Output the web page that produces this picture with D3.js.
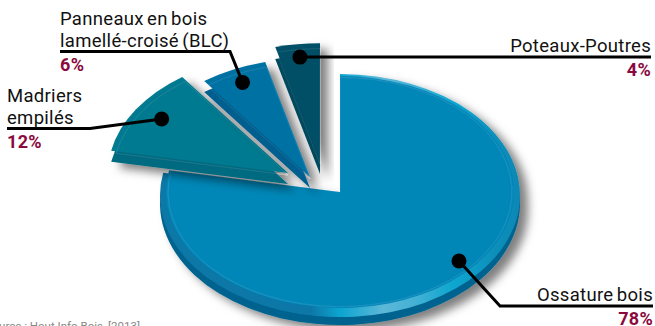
<!DOCTYPE html>
<html>
<head>
<meta charset="utf-8">
<script src="https://cdn.jsdelivr.net/npm/d3@7"></script>
<style>
    html, body { margin: 0; padding: 0; background: #fff; overflow: hidden; }
    svg { display: block; }
    text { font-family: Roboto, "Liberation Sans", sans-serif; }
    .nom { font-size: 18.5px; fill: #111; letter-spacing: 0.3px; word-spacing: -1.5px; }
    .pct { font-size: 18px; font-weight: 700; fill: #8a0a3e; letter-spacing: 0.3px; }
    .source { font-size: 11.5px; fill: #888; }
</style>
</head>
<body>
<div id="pie"></div>
<script>
// Podaci
const categories = ["Ossature bois", "Madriers empilés", "Panneaux en bois lamellé-croisé (BLC)", "Poteaux-Poutres"];
const values = [78, 12, 6, 4];
const percentLabels = ["78%", "12%", "6%", "4%"];
const sliceColors = ["#0587b8", "#047a90", "#0271a3", "#014f66"];
const sideColors = ["#05648f", "#046a80", "#025f8f", "#01485e"];
const labelLines = [["Ossature bois"], ["Madriers", "empilés"], ["Panneaux en bois", "lamellé-croisé (BLC)"], ["Poteaux-Poutres"]];
const source = "Source : Hout Info Bois, [2013]";

const sirina = 655;
const visina = 326;
const centar = { x: 340, y: 192 };
const ratio = 0.66;

// pomak izvucenih kriski od centra, [dx, dy]
const pomaci = [[0, 0], [-52, -19], [-30, -15], [-20, -30]];
const dubine = [14, 11, 11, 12];
const radijusi = [174, 180, 180, 180];

// kruzic oznake: kut u stupnjevima i udio radijusa
const tockaKut = [131, 302.9, 334.8, 352.8];
const tockaUdio = [0.906, 0.836, 0.88, 0.89];

// linija oznake: lakat i kraj
const lakat = [[500, 306], [90, 128.5], [230, 51.5], null];
const kraj = [[653, 306], [7, 128.5], [60, 51.5], [651, 57]];
const razmakRedova = 22;

const okvir = d3.select("#pie")
    .append("svg")
    .attr("width", sirina)
    .attr("height", visina);

const defs = okvir.append("defs");

const sjena = defs.append("filter")
    .attr("id", "sjena")
    .attr("x", "-20%").attr("y", "-20%")
    .attr("width", "150%").attr("height", "150%");
sjena.append("feDropShadow")
    .attr("dx", 8).attr("dy", 6)
    .attr("stdDeviation", 5)
    .attr("flood-color", "#000")
    .attr("flood-opacity", 0.5);

const rub = defs.append("linearGradient").attr("id", "rub");
[[0, "#0877a6"], [0.42, "#0878a8"], [0.5, "#0ba5d0"], [0.62, "#5db8d8"], [0.72, "#3fb0d5"], [0.82, "#0aa5cf"], [0.93, "#0a8fba"], [1, "#0987b5"]]
    .forEach(s => rub.append("stop").attr("offset", s[0]).attr("stop-color", s[1]));

const pieGen = d3.pie().sort(null).value(d => d);
const kriske = pieGen(values);

const arcGen = r => d3.arc().innerRadius(0).outerRadius(r);

// crta kolac s ujednacenom debljinom poteza unatoc skaliranju po y
const kriska = (sloj, d, r, dx, dy, fill, sy = ratio) => sloj.append("path")
    .attr("transform", `translate(${centar.x + dx},${centar.y + dy}) scale(1,${sy})`)
    .attr("d", arcGen(r)(d))
    .attr("fill", fill);

// 1. Kriske
kriske.forEach((d, i) => {
    const [dx, dy] = pomaci[i];
    const g = okvir.append("g").attr("class", "kriska").attr("filter", "url(#sjena)");
    const r = radijusi[i];

    if (i === 0) {
        // glavna kriska: bok, kosi rub i gornja ploha
        kriska(g, d, 180, 0, 11.5, sideColors[i], 121.5 / 180);
        kriska(g, d, 180, 0, 3.5, "url(#rub)", 121.5 / 180);
        kriska(g, d, r, 0, 0, sliceColors[i], 116 / 174);
    } else {
        kriska(g, d, r, dx, dy + dubine[i], sideColors[i]);
        kriska(g, d, r, dx, dy, sliceColors[i]);
    }

    // tanka svijetla crta unutar plohe
    kriska(g, d, r - (i === 0 ? 2 : 5), dx, dy + (i === 0 ? 0 : 2), "none", i === 0 ? 116 / 174 : ratio)
        .attr("stroke", "#fff")
        .attr("stroke-opacity", 0.16)
        .attr("stroke-width", 0.6)
        .attr("vector-effect", "non-scaling-stroke");
});

// 2. Oznake
const tockaPolozaj = i => {
    const kut = tockaKut[i] * Math.PI / 180;
    const r = radijusi[i] * tockaUdio[i];
    const sy = i === 0 ? 116 / 174 : ratio;
    return [
        centar.x + pomaci[i][0] + r * Math.sin(kut),
        centar.y + pomaci[i][1] - r * sy * Math.cos(kut),
    ];
};

const lineGen = d3.line();
const oznake = okvir.append("g").attr("class", "oznake");

categories.forEach((c, i) => {
    const t = tockaPolozaj(i);
    const tocke = [t, lakat[i], kraj[i]].filter(Boolean);
    oznake.append("path")
        .attr("d", lineGen(tocke))
        .attr("fill", "none")
        .attr("stroke", "#000")
        .attr("stroke-width", 3);
    oznake.append("circle")
        .attr("cx", t[0])
        .attr("cy", t[1])
        .attr("r", 7.5)
        .attr("fill", "#000");

    const linijaY = kraj[i][1];
    const desno = i === 0 || i === 3;
    const xT = kraj[i][0];
    const redovi = labelLines[i];
    redovi.forEach((red, j) => {
        oznake.append("text")
            .attr("class", "nom")
            .attr("x", xT)
            .attr("y", linijaY - 5 - (redovi.length - 1 - j) * razmakRedova)
            .attr("text-anchor", desno ? "end" : "start")
            .text(red);
    });
    oznake.append("text")
        .attr("class", "pct")
        .attr("x", xT)
        .attr("y", linijaY + 19)
        .attr("text-anchor", desno ? "end" : "start")
        .text(percentLabels[i]);
});

okvir.append("text")
    .attr("class", "source")
    .attr("x", 140)
    .attr("y", 330)
    .attr("text-anchor", "end")
    .text(source);
</script>
</body>
</html>
